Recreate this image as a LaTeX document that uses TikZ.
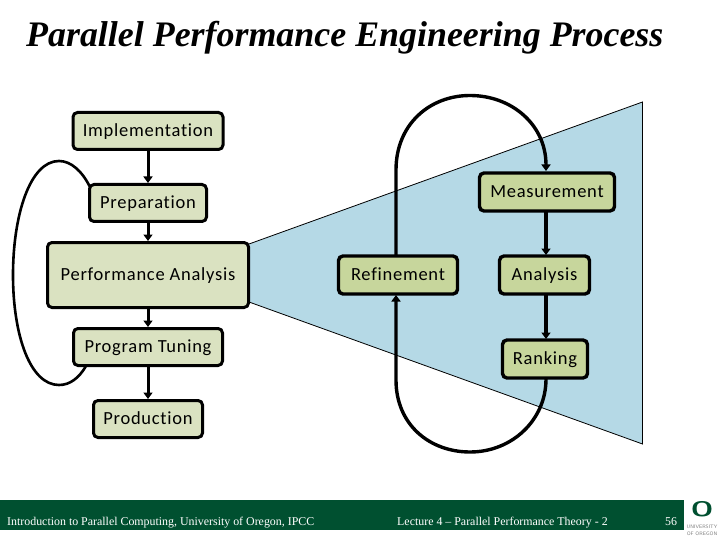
\documentclass[tikz,border=0pt]{standalone}
\usepackage{fontspec}
\setmainfont{Liberation Serif}
\newfontfamily\boxfont[LetterSpace=4,Ligatures=NoCommon]{Carlito}
\usetikzlibrary{arrows.meta}
\definecolor{leftfill}{HTML}{DAE2C1}
\definecolor{rightfill}{HTML}{C7D69C}
\definecolor{conefill}{HTML}{B5D9E6}
\definecolor{barfill}{HTML}{005030}
\tikzset{
  stagebox/.style={draw=black,line width=3pt,fill=leftfill,rounded corners=4.5pt,inner sep=0pt,text height=14pt,text depth=3pt,font=\boxfont\fontsize{18.5}{20}\selectfont,text=black},
  subbox/.style={stagebox,fill=rightfill,line width=3.4pt},
  flow/.style={draw=black,line width=3pt,-{Triangle[length=6.5pt,width=9pt]}},
  subflow/.style={draw=black,line width=3.4pt,-{Triangle[length=6.5pt,width=9pt]}},
  loopline/.style={draw=black,line width=3.4pt},
  backline/.style={draw=black,line width=2.6pt},
  bartext/.style={text=white,font=\fontsize{11.9}{14}\selectfont,inner sep=0pt,anchor=base west}
}
\begin{document}
\begin{tikzpicture}[x=1pt,y=-1pt]
\useasboundingbox (0,0) rectangle (720,540);
\fill[white] (0,0) rectangle (720,540);
\draw[black,line width=0.8pt,fill=conefill] (249,244) -- (642.5,102) -- (642.5,444) -- (249,302);
\node[anchor=base west,inner sep=0pt,font=\bfseries\itshape\fontsize{35.9}{40}\selectfont] (title) at (26,47) {Parallel Performance Engineering Process};
\node[stagebox,minimum width=150pt,minimum height=37pt] (impl) at (148,131) {Implementation};
\node[stagebox,minimum width=117pt,minimum height=37pt] (prep) at (148,203) {Preparation};
\node[stagebox,minimum width=201pt,minimum height=65pt] (perf) at (148,275) {Performance Analysis};
\node[stagebox,minimum width=149pt,minimum height=37pt] (tune) at (148,347) {Program Tuning};
\node[stagebox,minimum width=109pt,minimum height=37pt] (prod) at (148,419) {Production};
\node[subbox,minimum width=135pt,minimum height=38pt] (meas) at (547,192) {Measurement};
\node[subbox,minimum width=119pt,minimum height=38pt] (refi) at (398,275) {Refinement};
\node[subbox,minimum width=90pt,minimum height=38pt] (anal) at (544.5,275) {Analysis};
\node[subbox,minimum width=85pt,minimum height=38pt] (rank) at (545,359) {Ranking};
\draw[flow] (impl.south) -- (prep.north);
\draw[flow] (prep.south) -- (perf.north);
\draw[flow] (perf.south) -- (tune.north);
\draw[flow] (tune.south) -- (prod.north);
\coordinate (measIn) at (546,171);
\coordinate (measOut) at (546,212);
\coordinate (anaIn) at (546,255);
\coordinate (anaOut) at (546,295);
\coordinate (rankIn) at (546,339);
\coordinate (rankOut) at (546,379);
\coordinate (refOut) at (396,256);
\coordinate (refIn) at (396,295);
\coordinate (prepIn) at (90,187);
\coordinate (tuneOut) at (86,366);
\draw[subflow] (measOut) -- (anaIn);
\draw[subflow] (anaOut) -- (rankIn);
\draw[loopline,-{Triangle[length=6.5pt,width=9pt]}] (refOut) -- (396,170) .. controls (396,124) and (430,95.5) .. (470,95.5) .. controls (512,95.5) and (546,125) .. (measIn);
\draw[loopline,-{Triangle[length=6.5pt,width=9pt]}] (rankOut) .. controls (546,420) and (512,452) .. (470,452) .. controls (430,452) and (396,425) .. (396,380) -- (refIn);
\draw[backline] (prepIn) .. controls (82,171) and (71,161) .. (59,161) .. controls (30,161) and (13,215) .. (13,275) .. controls (13,335) and (30,385) .. (59,385) .. controls (70,385) and (79,378) .. (tuneOut);
\fill[barfill] (0,500) rectangle (684,530);
\node[bartext] (fl) at (7,525) {Introduction to Parallel Computing, University of Oregon, IPCC};
\node[bartext] (fc) at (397,525) {Lecture 4 – Parallel Performance Theory - 2};
\node[bartext] (fn) at (665,525) {56};
\node[inner sep=0pt,font=\sffamily\bfseries\fontsize{21}{21}\selectfont,text=barfill,xscale=1.35] (logoO) at (702,509.5) {O};
\node[inner sep=0pt,font=\sffamily\fontsize{5}{7}\selectfont,text=gray,align=center] (logoT) at (702,530.5) {UNIVERSITY\\OF OREGON};
\end{tikzpicture}
\end{document}
